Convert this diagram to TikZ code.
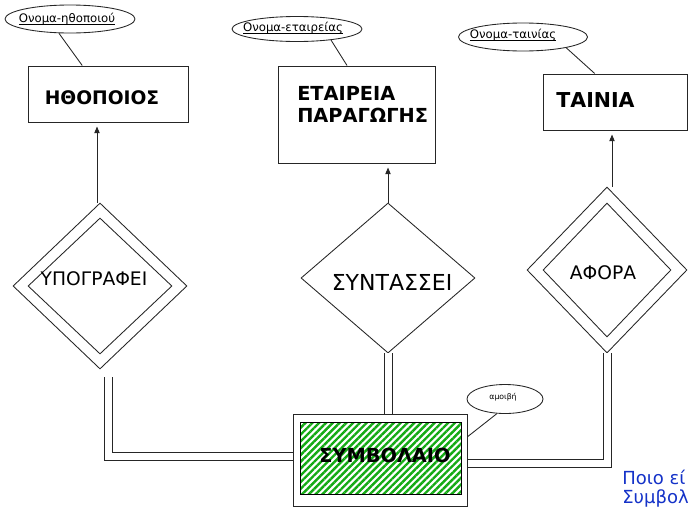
\documentclass[tikz,border=0pt]{standalone}
\usepackage{fontspec}
\setmainfont{DejaVu Sans}
\usetikzlibrary{shapes.geometric,arrows.meta,patterns.meta,calc}
\definecolor{stripe}{RGB}{20,170,20}
\definecolor{qblue}{RGB}{20,50,200}
\newcommand\myul[1]{\setbox0\hbox{#1}\rlap{\rule[-1.6pt]{\wd0}{0.45pt}}\box0}
\begin{document}
\begin{tikzpicture}[x=0.75pt,y=-0.75pt,
  ent/.style={draw=black!85, line width=0.75pt, inner sep=0pt},
  rel/.style={draw=black!85, line width=0.65pt, shape=diamond, inner sep=0pt},
  attr/.style={draw=black!85, line width=0.65pt, shape=ellipse, inner sep=0pt},
  lbl/.style={inner sep=0pt},
  conn/.style={draw=black!85, line width=0.65pt},
  arr/.style={draw=black!85, line width=0.7pt, -{Triangle[length=5pt,width=4pt]}, shorten >=3pt},
  dbl/.style={draw=black!85, line width=0.75pt, double=white, double distance=5.25pt}
]
\useasboundingbox (0,0) rectangle (691,518);

% entities
\node[ent, minimum width=120pt, minimum height=42pt] (b1) at (108,94) {};
\node[lbl] (t1) at (102,98) {\fontsize{14}{17}\selectfont\bfseries ΗΘΟΠΟΙΟΣ};

\node[ent, minimum width=117.75pt, minimum height=72.75pt] (b2) at (356.5,114.5) {};
\node[lbl, anchor=west] (t2a) at (297,93) {\fontsize{14.5}{17}\selectfont\bfseries ΕΤΑΙΡΕΙΑ};
\node[lbl, anchor=west] (t2b) at (297,115) {\fontsize{14.5}{17}\selectfont\bfseries ΠΑΡΑΓΩΓΗΣ};

\node[ent, minimum width=108pt, minimum height=42pt] (b3) at (615,102) {};
\node[lbl] (t3) at (595.5,100) {\fontsize{15.4}{18}\selectfont\bfseries ΤΑΙΝΙΑ};

% attributes
\node[attr, minimum width=97.5pt, minimum height=21pt] (e1) at (70,19) {};
\node[lbl] (e1t) at (67,19) {\fontsize{8.8}{10}\selectfont\myul{Ονομα-ηθοποιού}};
\node[attr, minimum width=97.5pt, minimum height=18.75pt] (e2) at (297,29) {};
\node[lbl] (e2t) at (293,28) {\fontsize{8.8}{10}\selectfont\myul{Ονομα-εταιρείας}};
\node[attr, minimum width=96.75pt, minimum height=21pt] (e3) at (523,37) {};
\node[lbl] (e3t) at (513,35) {\fontsize{8.8}{10}\selectfont\myul{Ονομα-ταινίας}};
\node[attr, minimum width=57pt, minimum height=21.75pt] (am) at (505,399) {};
\node[lbl] (amt) at (503,397) {\fontsize{5.8}{7}\selectfont αμοιβή};

\draw[conn] (e1.232) -- ($(b1.north west)!0.34!(b1.north east)$);
\draw[conn] (e2.342) -- ($(b2.north west)!0.44!(b2.north east)$);
\draw[conn] (e3.346) -- ($(b3.north west)!0.36!(b3.north east)$);

% relationships
\node[rel, minimum width=130.5pt, minimum height=124.5pt] (ypo) at (100,286) {};
\node[rel, minimum width=108pt, minimum height=102pt] (ypoin) at (100,286) {};
\node[lbl] (ypot) at (94,279) {\fontsize{14}{17}\selectfont ΥΠΟΓΡΑΦΕΙ};

\node[rel, minimum width=130.5pt, minimum height=112.5pt] (syn) at (388,278) {};
\node[lbl] (synt) at (392,282) {\fontsize{16.5}{20}\selectfont ΣΥΝΤΑΣΣΕΙ};

\node[rel, minimum width=120pt, minimum height=124.5pt] (afo) at (607,270) {};
\node[rel, minimum width=96pt, minimum height=100.5pt] (afoin) at (607,270) {};
\node[lbl] (afot) at (603,273) {\fontsize{14}{17}\selectfont ΑΦΟΡΑ};

% arrows to entities
\draw[arr] ([xshift=-2.25pt]ypo.north) -- ([xshift=-2.25pt]ypo.north |- b1.south);
\draw[arr] (syn.north) -- (syn.north |- b2.south);
\draw[arr] ([xshift=3.75pt]afo.north) -- ([xshift=3.75pt]afo.north |- b3.south);

% weak entity
\node[ent, minimum width=130.5pt, minimum height=69pt] (symb) at (380,460) {};
\node[draw=black, line width=0.75pt, inner sep=0pt, minimum width=120.75pt, minimum height=54pt,
  pattern={Lines[angle=45,distance=3.6pt,line width=1.8pt]}, pattern color=stripe] (symbin) at (380.5,458) {};
\node[lbl] (symbt) at (385,455) {\fontsize{14.5}{17}\selectfont\bfseries ΣΥΜΒΟΛΑΙΟ};

% double connectors
\draw[dbl] ([xshift=6pt,yshift=-6pt]ypo.south) |- ([yshift=2.6pt]symb.west);
\draw[dbl] (syn.south) -- (syn.south |- symb.north);
\draw[dbl] (afo.south) |- ([yshift=-2.25pt]symb.east);

\draw[conn] (am.241) -- ($(symb.north east)!0.25!(symb.south east)$);

% question text
\node[lbl, anchor=base west, text=qblue] (q1) at (622,484) {\fontsize{13.5}{16}\selectfont Ποιο εί};
\node[lbl, anchor=base west, text=qblue] (q2) at (622,503) {\fontsize{13.5}{16}\selectfont Συμβολ};
\end{tikzpicture}
\end{document}
